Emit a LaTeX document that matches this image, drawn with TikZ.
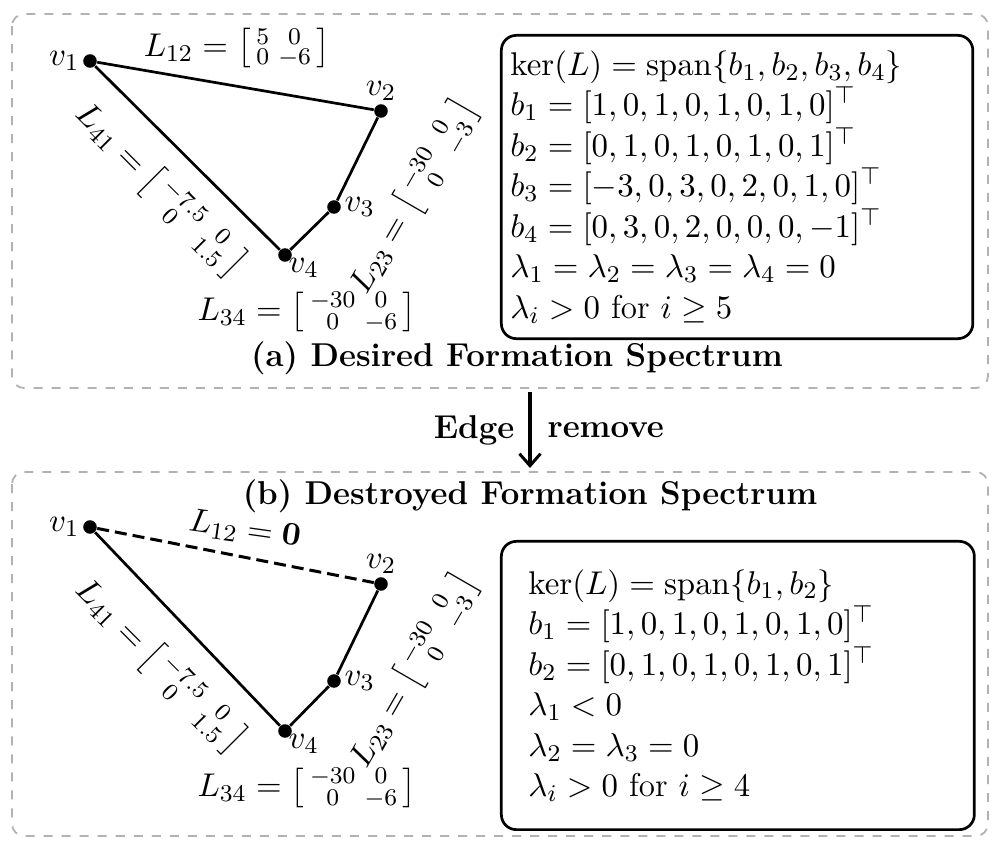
\documentclass[tikz,border=0pt]{standalone}
\usepackage{amsmath,amssymb,bm}
\usetikzlibrary{arrows.meta}
\tikzset{every picture/.style={line width=0.4pt}}
\tikzset{
	every node/.style={font=\fontsize{11}{13.5}\selectfont},
	agent/.style={circle,fill=black,inner sep=0pt,minimum size=4.5pt},
	link/.style={line width=0.9pt},
	frame/.style={draw=black!30,dashed,line width=0.6pt,rounded corners=4pt},
	specbox/.style={draw,line width=0.9pt,rounded corners=5pt}}
\begin{document}
\begin{tikzpicture}[x=0.333pt,y=0.333pt,yscale=-1,xscale=1]
	\useasboundingbox (0,0) rectangle (998,852);

	%Dashed frames
	\draw [frame] (12,14) rectangle (988,388);
	\draw [frame] (12,472) rectangle (988,836);

	% Top graph
	\node [agent] (v1) at (90,61) {};
	\node [agent] (v2) at (381,111) {};
	\node [agent] (v3) at (334,207) {};
	\node [agent] (v4) at (285,255) {};
	\node [left] at (v1) {$v_1$};
	\node [above] at (v2) {$v_2$};
	\node [right] at (v3) {$v_3$};
	\node [below right,inner sep=1pt] at (v4) {$v_4$};
	\draw [link] (v1) -- (v2) -- (v3) -- (v4) -- (v1);
	\node at (237,48) {$L_{12}=\bigl[\begin{smallmatrix}5&0\\0&-6\end{smallmatrix}\bigr]$};
	\node [rotate=-45] at (160,190) {$L_{41}=\bigl[\begin{smallmatrix}-7.5&0\\0&1.5\end{smallmatrix}\bigr]$};
	\node [rotate=60] at (414,197) {$L_{23}=\bigl[\begin{smallmatrix}-30&0\\0&-3\end{smallmatrix}\bigr]$};
	\node at (307,312) {$L_{34}=\bigl[\begin{smallmatrix}-30&0\\0&-6\end{smallmatrix}\bigr]$};

	% Top spectrum
	\node [specbox,text width=151pt,minimum height=101pt,align=left,anchor=north west,inner xsep=3pt] (specA) at (500,34) {$\ker(L)=\operatorname{span}\{b_1,b_2,b_3,b_4\}$\\
		$b_1=[1,0,1,0,1,0,1,0]^\top$\\
		$b_2=[0,1,0,1,0,1,0,1]^\top$\\
		$b_3=[-3,0,3,0,2,0,1,0]^\top$\\
		$b_4=[0,3,0,2,0,0,0,-1]^\top$\\
		$\lambda_1=\lambda_2=\lambda_3=\lambda_4=0$\\
		$\lambda_i>0$ for $i\geq 5$};
	\node (capA) at (517,358) {\textbf{(a) Desired Formation Spectrum}};

	% Arrow
	\coordinate (top) at (530,392);
	\coordinate (bot) at (530,468);
	\draw [line width=1pt,-{Straight Barb[length=4pt,width=7pt]}] (top) -- (bot);
	\node [left] at (525,430) {\textbf{Edge}};
	\node [right] at (537,430) {\textbf{remove}};

	% Bottom graph
	\node (capB) at (530,496) {\textbf{(b) Destroyed Formation Spectrum}};
	\node [agent] (w1) at (90,527) {};
	\node [agent] (w2) at (381,584) {};
	\node [agent] (w3) at (334,681) {};
	\node [agent] (w4) at (285,731) {};
	\node [left] at (w1) {$v_1$};
	\node [above] at (w2) {$v_2$};
	\node [right] at (w3) {$v_3$};
	\node [below right,inner sep=1pt] at (w4) {$v_4$};
	\draw [link,dashed,dash pattern=on 4pt off 2pt,line width=1pt] (w1) -- (w2);
	\draw [link] (w2) -- (w3) -- (w4) -- (w1);
	\node [rotate=-8] at (245,530) {$L_{12}=\bm{0}$};
	\node [rotate=-45] at (160,666) {$L_{41}=\bigl[\begin{smallmatrix}-7.5&0\\0&1.5\end{smallmatrix}\bigr]$};
	\node [rotate=60] at (414,671) {$L_{23}=\bigl[\begin{smallmatrix}-30&0\\0&-3\end{smallmatrix}\bigr]$};
	\node at (307,788) {$L_{34}=\bigl[\begin{smallmatrix}-30&0\\0&-6\end{smallmatrix}\bigr]$};

	% Bottom spectrum
	\node [specbox,text width=139.5pt,minimum height=96pt,align=left,anchor=north west,inner xsep=9pt] (specB) at (500,540) {$\ker(L)=\operatorname{span}\{b_1,b_2\}$\\
		$b_1=[1,0,1,0,1,0,1,0]^\top$\\
		$b_2=[0,1,0,1,0,1,0,1]^\top$\\
		$\lambda_1<0$\\
		$\lambda_2=\lambda_3=0$\\
		$\lambda_i>0$ for $i\geq 4$};
\end{tikzpicture}
\end{document}
